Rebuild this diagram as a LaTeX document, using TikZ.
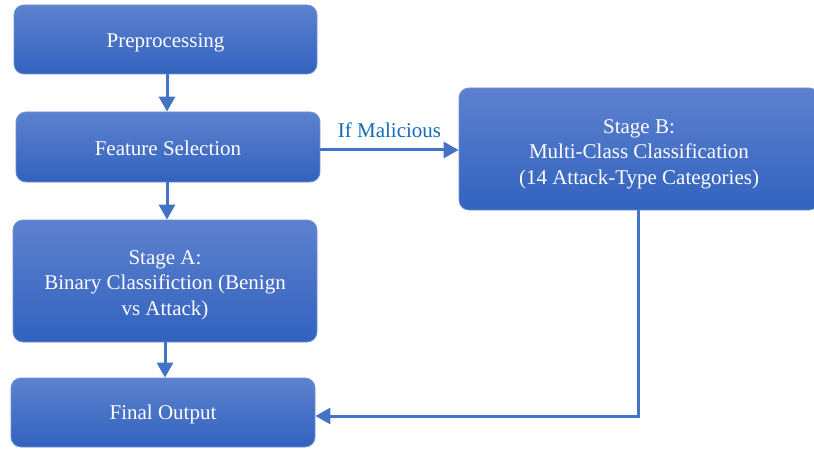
\documentclass[tikz,border=0pt]{standalone}
\usepackage{fontspec}
\setmainfont{Liberation Serif}
\usetikzlibrary{arrows.meta}
\definecolor{boxtop}{RGB}{93,129,207}
\definecolor{boxbot}{RGB}{50,98,190}
\definecolor{boxedge}{RGB}{110,145,215}
\definecolor{arr}{RGB}{68,114,196}
\definecolor{lbl}{RGB}{16,108,186}
\begin{document}
\begin{tikzpicture}[x=1pt,y=1pt,
  blk/.style={rectangle, rounded corners=10pt, top color=boxtop, bottom color=boxbot,
    draw=boxedge, line width=0.8pt, inner sep=0pt},
  txt/.style={text=white, align=center, font=\fontsize{21}{25.5}\selectfont, inner sep=0pt},
  conn/.style={draw=arr, line width=3pt, -{Triangle[length=15pt,width=16pt]}}]
\useasboundingbox (0,0) rectangle (814,448);
\node[blk, minimum width=303pt, minimum height=69pt] (pre) at (165.5,408.5) {};
\node[blk, minimum width=304pt, minimum height=70pt] (fs) at (168,301) {};
\node[blk, minimum width=304pt, minimum height=122pt] (sa) at (165,167) {};
\node[blk, minimum width=304pt, minimum height=69pt] (fo) at (163,35.5) {};
\node[blk, minimum width=360pt, minimum height=122pt] (sb) at (639,299) {};
\node[txt] (preT) at ([yshift=-3pt]pre.center) {Preprocessing};
\node[txt] (fsT) at ([yshift=-1.5pt]fs.center) {Feature Selection};
\node[txt] (saT) at ([yshift=-4pt]sa.center) {Stage A:\\Binary Classifiction (Benign\\vs Attack)};
\node[txt] (foT) at ([yshift=-1.5pt]fo.center) {Final Output};
\node[txt] (sbT) at ([yshift=-5pt]sb.center) {Stage B:\\Multi-Class Classification\\(14 Attack-Type Categories)};
\draw[conn] (pre.south -| 167,0) -- (fs.north -| 167,0);
\draw[conn] (fs.south -| 167,0) -- (sa.north -| 167,0);
\draw[conn] (sa.south) -- (sa.south |- fo.north);
\draw[conn] (fs.east |- 0,298) -- node[above=7pt, text=lbl, font=\fontsize{21}{24}\selectfont] (lblT) {If Malicious} (sb.west |- 0,298);
\coordinate (corner) at (638,32);
\draw[conn] (sb.south -| corner) -- (corner) -- (fo.east |- corner);
\end{tikzpicture}
\end{document}
